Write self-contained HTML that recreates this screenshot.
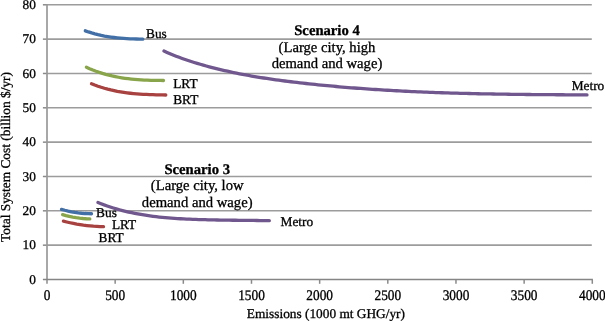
<!DOCTYPE html>
<html><head><meta charset="utf-8"><style>
html,body{margin:0;padding:0;background:#fff;}
svg{display:block;will-change:transform;}
text{font-family:"Liberation Serif",serif;fill:#000;text-rendering:geometricPrecision;stroke:#000;stroke-width:0.3px;}
</style></head><body>
<svg width="605" height="321" viewBox="0 0 605 321">
<rect width="605" height="321" fill="#fff"/>
<line x1="47" y1="245.16" x2="591.80" y2="245.16" stroke="#9c9c9c" stroke-width="1.6"/>
<line x1="42.9" y1="245.16" x2="47" y2="245.16" stroke="#8a8a8a" stroke-width="1.5"/>
<line x1="47" y1="210.82" x2="591.80" y2="210.82" stroke="#9c9c9c" stroke-width="1.6"/>
<line x1="42.9" y1="210.82" x2="47" y2="210.82" stroke="#8a8a8a" stroke-width="1.5"/>
<line x1="47" y1="176.49" x2="591.80" y2="176.49" stroke="#9c9c9c" stroke-width="1.6"/>
<line x1="42.9" y1="176.49" x2="47" y2="176.49" stroke="#8a8a8a" stroke-width="1.5"/>
<line x1="47" y1="142.15" x2="591.80" y2="142.15" stroke="#9c9c9c" stroke-width="1.6"/>
<line x1="42.9" y1="142.15" x2="47" y2="142.15" stroke="#8a8a8a" stroke-width="1.5"/>
<line x1="47" y1="107.81" x2="591.80" y2="107.81" stroke="#9c9c9c" stroke-width="1.6"/>
<line x1="42.9" y1="107.81" x2="47" y2="107.81" stroke="#8a8a8a" stroke-width="1.5"/>
<line x1="47" y1="73.47" x2="591.80" y2="73.47" stroke="#9c9c9c" stroke-width="1.6"/>
<line x1="42.9" y1="73.47" x2="47" y2="73.47" stroke="#8a8a8a" stroke-width="1.5"/>
<line x1="47" y1="39.14" x2="591.80" y2="39.14" stroke="#9c9c9c" stroke-width="1.6"/>
<line x1="42.9" y1="39.14" x2="47" y2="39.14" stroke="#8a8a8a" stroke-width="1.5"/>
<line x1="47" y1="4.80" x2="591.80" y2="4.80" stroke="#9c9c9c" stroke-width="1.6"/>
<line x1="42.9" y1="4.80" x2="47" y2="4.80" stroke="#8a8a8a" stroke-width="1.5"/>
<line x1="47.00" y1="4.00" x2="47.00" y2="283.80" stroke="#999" stroke-width="1.7"/>
<line x1="42.9" y1="279.50" x2="592.90" y2="279.50" stroke="#858585" stroke-width="1.4"/>
<line x1="115.16" y1="279.50" x2="115.16" y2="283.80" stroke="#8a8a8a" stroke-width="1.5"/>
<line x1="183.32" y1="279.50" x2="183.32" y2="283.80" stroke="#8a8a8a" stroke-width="1.5"/>
<line x1="251.49" y1="279.50" x2="251.49" y2="283.80" stroke="#8a8a8a" stroke-width="1.5"/>
<line x1="319.65" y1="279.50" x2="319.65" y2="283.80" stroke="#8a8a8a" stroke-width="1.5"/>
<line x1="387.81" y1="279.50" x2="387.81" y2="283.80" stroke="#8a8a8a" stroke-width="1.5"/>
<line x1="455.97" y1="279.50" x2="455.97" y2="283.80" stroke="#8a8a8a" stroke-width="1.5"/>
<line x1="524.14" y1="279.50" x2="524.14" y2="283.80" stroke="#8a8a8a" stroke-width="1.5"/>
<line x1="592.30" y1="279.50" x2="592.30" y2="283.80" stroke="#8a8a8a" stroke-width="1.5"/>
<text x="35.8" y="283.80" text-anchor="end" font-size="13.33">0</text>
<text x="35.8" y="249.46" text-anchor="end" font-size="13.33">10</text>
<text x="35.8" y="215.12" text-anchor="end" font-size="13.33">20</text>
<text x="35.8" y="180.79" text-anchor="end" font-size="13.33">30</text>
<text x="35.8" y="146.45" text-anchor="end" font-size="13.33">40</text>
<text x="35.8" y="112.11" text-anchor="end" font-size="13.33">50</text>
<text x="35.8" y="77.77" text-anchor="end" font-size="13.33">60</text>
<text x="35.8" y="43.44" text-anchor="end" font-size="13.33">70</text>
<text x="35.8" y="9.10" text-anchor="end" font-size="13.33">80</text>
<text transform="translate(47.00,299.6) scale(1,1.1)" text-anchor="middle" font-size="13.33">0</text>
<text transform="translate(115.16,299.6) scale(1,1.1)" text-anchor="middle" font-size="13.33">500</text>
<text transform="translate(183.32,299.6) scale(1,1.1)" text-anchor="middle" font-size="13.33">1000</text>
<text transform="translate(251.49,299.6) scale(1,1.1)" text-anchor="middle" font-size="13.33">1500</text>
<text transform="translate(319.65,299.6) scale(1,1.1)" text-anchor="middle" font-size="13.33">2000</text>
<text transform="translate(387.81,299.6) scale(1,1.1)" text-anchor="middle" font-size="13.33">2500</text>
<text transform="translate(455.97,299.6) scale(1,1.1)" text-anchor="middle" font-size="13.33">3000</text>
<text transform="translate(524.14,299.6) scale(1,1.1)" text-anchor="middle" font-size="13.33">3500</text>
<text transform="translate(592.30,299.6) scale(1,1.1)" text-anchor="middle" font-size="13.33">4000</text>
<text x="325.9" y="317.5" text-anchor="middle" font-size="13.33">Emissions (1000 mt GHG/yr)</text>
<text transform="translate(10.3,156.95) rotate(-90)" x="0" y="0" text-anchor="middle" font-size="13.38">Total System Cost (billion $/yr)</text>
<path d="M164.00,51.01 L167.02,52.38 L170.04,53.70 L173.06,54.96 L176.09,56.17 L179.11,57.33 L182.13,58.43 L185.15,59.50 L188.17,60.52 L191.19,61.51 L194.21,62.46 L197.24,63.38 L200.26,64.28 L203.28,65.14 L206.30,65.98 L209.32,66.80 L212.34,67.60 L215.36,68.37 L218.39,69.11 L221.41,69.84 L224.43,70.54 L227.45,71.23 L230.47,71.89 L233.49,72.54 L236.51,73.16 L239.54,73.76 L242.56,74.35 L245.58,74.92 L248.60,75.48 L251.62,76.01 L254.64,76.53 L257.66,77.04 L260.69,77.53 L263.71,78.00 L266.73,78.47 L269.75,78.92 L272.77,79.35 L275.79,79.78 L278.81,80.19 L281.84,80.60 L284.86,80.99 L287.88,81.37 L290.90,81.75 L293.92,82.11 L296.94,82.47 L299.96,82.82 L302.99,83.16 L306.01,83.50 L309.03,83.83 L312.05,84.15 L315.07,84.47 L318.09,84.78 L321.11,85.08 L324.14,85.38 L327.16,85.67 L330.18,85.95 L333.20,86.23 L336.22,86.50 L339.24,86.77 L342.26,87.03 L345.29,87.28 L348.31,87.53 L351.33,87.77 L354.35,88.01 L357.37,88.24 L360.39,88.47 L363.41,88.69 L366.44,88.90 L369.46,89.11 L372.48,89.32 L375.50,89.52 L378.52,89.71 L381.54,89.90 L384.56,90.08 L387.59,90.26 L390.61,90.44 L393.63,90.61 L396.65,90.77 L399.67,90.93 L402.69,91.09 L405.71,91.24 L408.74,91.39 L411.76,91.53 L414.78,91.67 L417.80,91.80 L420.82,91.93 L423.84,92.06 L426.86,92.18 L429.89,92.30 L432.91,92.41 L435.93,92.53 L438.95,92.63 L441.97,92.74 L444.99,92.84 L448.01,92.93 L451.04,93.03 L454.06,93.12 L457.08,93.20 L460.10,93.29 L463.12,93.37 L466.14,93.45 L469.16,93.52 L472.19,93.59 L475.21,93.66 L478.23,93.73 L481.25,93.79 L484.27,93.85 L487.29,93.91 L490.31,93.97 L493.34,94.02 L496.36,94.07 L499.38,94.12 L502.40,94.17 L505.42,94.21 L508.44,94.26 L511.46,94.30 L514.49,94.34 L517.51,94.37 L520.53,94.41 L523.55,94.44 L526.57,94.48 L529.59,94.51 L532.61,94.54 L535.64,94.56 L538.66,94.59 L541.68,94.62 L544.70,94.64 L547.72,94.67 L550.74,94.69 L553.76,94.71 L556.79,94.73 L559.81,94.75 L562.83,94.77 L565.85,94.79 L568.87,94.80 L571.89,94.82 L574.91,94.84 L577.94,94.86 L580.96,94.87 L583.98,94.89 L587.00,94.90" fill="none" stroke="#70578D" stroke-width="3.3" stroke-linecap="round" stroke-linejoin="round"/>
<path d="M98.00,202.45 L101.06,203.67 L104.12,204.84 L107.18,205.93 L110.24,206.97 L113.29,207.95 L116.35,208.87 L119.41,209.74 L122.47,210.55 L125.53,211.32 L128.59,212.04 L131.65,212.71 L134.71,213.34 L137.77,213.93 L140.82,214.48 L143.88,214.99 L146.94,215.46 L150.00,215.91 L153.06,216.31 L156.12,216.69 L159.18,217.03 L162.24,217.35 L165.30,217.64 L168.36,217.91 L171.41,218.15 L174.47,218.37 L177.53,218.57 L180.59,218.75 L183.65,218.91 L186.71,219.06 L189.77,219.20 L192.83,219.32 L195.89,219.43 L198.94,219.53 L202.00,219.62 L205.06,219.70 L208.12,219.78 L211.18,219.86 L214.24,219.92 L217.30,219.98 L220.36,220.04 L223.42,220.09 L226.47,220.14 L229.53,220.19 L232.59,220.23 L235.65,220.27 L238.71,220.30 L241.77,220.34 L244.83,220.37 L247.89,220.41 L250.95,220.44 L254.01,220.47 L257.06,220.50 L260.12,220.54 L263.18,220.57 L266.24,220.61 L269.30,220.64" fill="none" stroke="#70578D" stroke-width="3.3" stroke-linecap="round" stroke-linejoin="round"/>
<path d="M85.30,30.82 L88.49,31.94 L91.69,32.94 L94.88,33.85 L98.08,34.67 L101.27,35.39 L104.47,36.03 L107.66,36.59 L110.86,37.08 L114.05,37.51 L117.24,37.87 L120.44,38.17 L123.63,38.42 L126.83,38.62 L130.02,38.78 L133.22,38.91 L136.41,39.00 L139.61,39.07 L142.80,39.12" fill="none" stroke="#4270A6" stroke-width="3.3" stroke-linecap="round" stroke-linejoin="round"/>
<path d="M86.40,67.25 L89.61,68.68 L92.83,70.00 L96.04,71.22 L99.25,72.35 L102.46,73.37 L105.68,74.31 L108.89,75.17 L112.10,75.94 L115.31,76.63 L118.53,77.25 L121.74,77.80 L124.95,78.28 L128.16,78.71 L131.38,79.07 L134.59,79.39 L137.80,79.65 L141.01,79.87 L144.22,80.04 L147.44,80.19 L150.65,80.29 L153.86,80.37 L157.07,80.43 L160.29,80.46 L163.50,80.48" fill="none" stroke="#89A54C" stroke-width="3.3" stroke-linecap="round" stroke-linejoin="round"/>
<path d="M91.50,83.74 L94.73,85.02 L97.96,86.21 L101.19,87.29 L104.42,88.27 L107.65,89.16 L110.88,89.97 L114.11,90.69 L117.34,91.34 L120.57,91.91 L123.80,92.41 L127.03,92.86 L130.27,93.24 L133.50,93.57 L136.73,93.85 L139.96,94.09 L143.19,94.29 L146.42,94.46 L149.65,94.59 L152.88,94.70 L156.11,94.79 L159.34,94.87 L162.57,94.94 L165.80,95.00" fill="none" stroke="#A84240" stroke-width="3.3" stroke-linecap="round" stroke-linejoin="round"/>
<path d="M61.50,209.35 L64.83,210.26 L68.17,211.07 L71.50,211.77 L74.83,212.36 L78.17,212.85 L81.50,213.24 L84.83,213.52 L88.17,213.69 L91.50,213.76" fill="none" stroke="#4270A6" stroke-width="3.3" stroke-linecap="round" stroke-linejoin="round"/>
<path d="M62.60,214.60 L66.00,215.54 L69.40,216.36 L72.80,217.07 L76.20,217.66 L79.60,218.13 L83.00,218.50 L86.40,218.74 L89.80,218.88" fill="none" stroke="#89A54C" stroke-width="3.3" stroke-linecap="round" stroke-linejoin="round"/>
<path d="M63.40,221.16 L66.74,221.98 L70.08,222.74 L73.42,223.43 L76.77,224.06 L80.11,224.61 L83.45,225.11 L86.79,225.53 L90.13,225.89 L93.47,226.19 L96.82,226.41 L100.16,226.58 L103.50,226.67" fill="none" stroke="#A84240" stroke-width="3.3" stroke-linecap="round" stroke-linejoin="round"/>
<text x="146.00" y="37.60" font-size="13.33">Bus</text>
<text x="173.20" y="87.80" font-size="13.33">LRT</text>
<text x="173.20" y="104.30" font-size="13.33">BRT</text>
<text x="571.70" y="89.80" font-size="13.33">Metro</text>
<text x="96.10" y="217.20" font-size="13.33">Bus</text>
<text x="111.90" y="229.00" font-size="13.33">LRT</text>
<text x="98.50" y="242.40" font-size="13.33">BRT</text>
<text x="280.60" y="225.70" font-size="13.33">Metro</text>
<text x="327.00" y="34.60" text-anchor="middle" font-size="14.67" font-weight="bold">Scenario 4</text>
<text x="327.00" y="51.50" text-anchor="middle" font-size="14.67">(Large city, high</text>
<text x="327.00" y="67.90" text-anchor="middle" font-size="14.67">demand and wage)</text>
<text x="197.20" y="173.80" text-anchor="middle" font-size="14.67" font-weight="bold">Scenario 3</text>
<text x="197.20" y="190.30" text-anchor="middle" font-size="14.67">(Large city, low</text>
<text x="197.20" y="207.40" text-anchor="middle" font-size="14.67">demand and wage)</text>
</svg>
</body></html>
